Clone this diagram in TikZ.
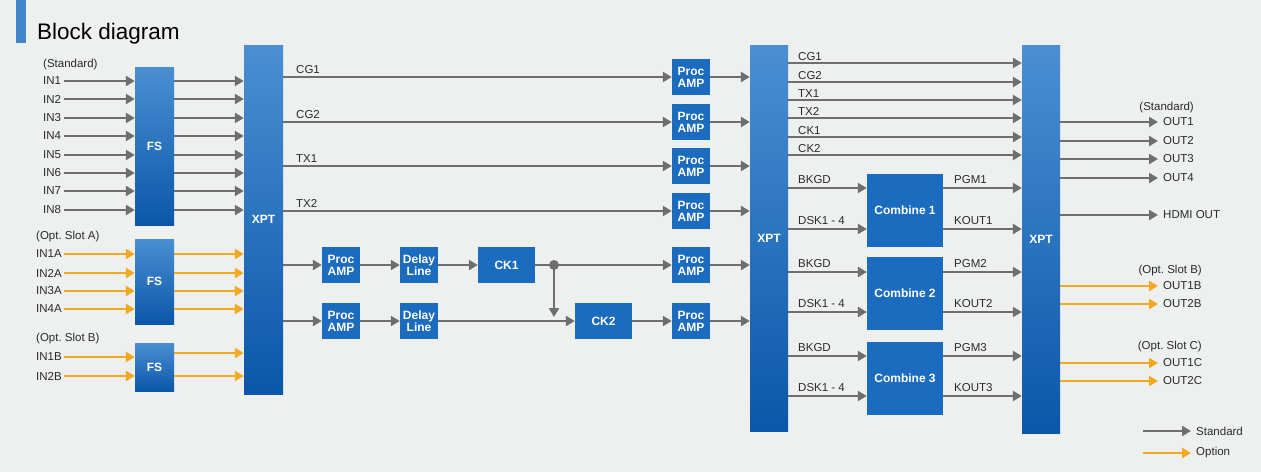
\documentclass[tikz,border=0pt]{standalone}
\usepackage{fontspec}
\setmainfont{Liberation Sans}
\usetikzlibrary{arrows.meta}
\definecolor{bg}{HTML}{EEF0F0}
\definecolor{boxblue}{HTML}{1B6BBE}
\definecolor{gtop}{HTML}{4A8FD2}
\definecolor{gbot}{HTML}{0A57A9}
\definecolor{barblue}{HTML}{3F86CC}
\definecolor{arrgray}{HTML}{6E6E6E}
\definecolor{optorange}{HTML}{F4A81D}
\definecolor{txt}{HTML}{2A2A2A}
\frenchspacing
\begin{document}
\begin{tikzpicture}[x=1pt,y=-1pt,
 std/.style={draw=arrgray, line width=2.5pt, -{Triangle[length=9pt,width=10pt]}},
 opt/.style={draw=optorange, line width=2.5pt, -{Triangle[length=9pt,width=10pt]}},
 lbl/.style={text=txt, font=\fontsize{11.5}{13}\selectfont, inner sep=0pt},
 gbox/.style={top color=gtop, bottom color=gbot, text=white, font=\fontsize{12}{14}\selectfont\bfseries, inner sep=0pt, minimum width=39pt},
 sbox/.style={fill=boxblue, text=white, font=\fontsize{12}{12}\selectfont\bfseries, inner sep=0pt, align=center, minimum width=38pt, minimum height=36pt},
 cbox/.style={fill=boxblue, text=white, font=\fontsize{12}{14}\selectfont\bfseries, inner sep=0pt, minimum width=76pt, minimum height=73pt},
]
\useasboundingbox (0,0) rectangle (1261,472);
\fill[bg] (0,0) rectangle (1261,472);
% title
\fill[barblue] (16,0) rectangle (26,43);
\node[anchor=base west, inner sep=0pt, font=\fontsize{22.5}{26}\selectfont, text=black] (title) at (37,39) {Block diagram};

% big boxes
\node[gbox, minimum height=158pt] (fs1) at (154.5,146) {FS};
\node[gbox, minimum height=85pt] (fs2) at (154.5,281.5) {FS};
\node[gbox, minimum height=48pt] (fs3) at (154.5,367) {FS};
\node[gbox, minimum height=349pt] (xpt1) at (263.5,219.5) {XPT};
\node[gbox, minimum height=386pt, minimum width=38pt] (xpt2) at (769,238) {XPT};
\node[gbox, minimum height=388pt, minimum width=38pt] (xpt3) at (1041,239) {XPT};

% standard inputs
\node[lbl, anchor=west] (hstd) at (43,65) {(Standard)};
\foreach \n/\y in {1/81,2/99,3/118,4/136,5/155,6/173,7/191,8/210} {
  \node[lbl, anchor=west] (in\n) at (43,\y) {IN\n};
  \draw[std] ([xshift=2.5pt]in\n.east) -- (fs1.west|-in\n);
  \draw[std] (fs1.east|-in\n) -- (xpt1.west|-in\n);
}
% slot A
\node[lbl, anchor=west] (hslA) at (36,237) {(Opt. Slot A)};
\foreach \n/\y in {1/254,2/273,3/291,4/309} {
  \node[lbl, anchor=west] (ina\n) at (36,\y) {IN\n A};
  \draw[opt] ([xshift=2.5pt]ina\n.east) -- (fs2.west|-ina\n);
  \draw[opt] (fs2.east|-ina\n) -- (xpt1.west|-ina\n);
}
% slot B
\node[lbl, anchor=west] (hslB) at (36,339) {(Opt. Slot B)};
\foreach \n/\y/\o in {1/357/353,2/376/376} {
  \node[lbl, anchor=west] (inb\n) at (36,\y) {IN\n B};
  \coordinate (fo\n) at (0,\o);
  \draw[opt] ([xshift=2.5pt]inb\n.east) -- (fs3.west|-inb\n);
  \draw[opt] (fs3.east|-fo\n) -- (xpt1.west|-fo\n);
}

% CG / TX paths
\foreach \n/\y/\t in {1/77/CG1,2/122/CG2,3/166/TX1,4/211/TX2} {
  \node[sbox] (pa\n) at (691,\y) {Proc\\AMP};
  \node[lbl, anchor=west] (lt\n) at (296,\y-7.5) {\t};
  \draw[std] (xpt1.east|-pa\n) -- (pa\n.west);
  \draw[std] (pa\n.east) -- (xpt2.west|-pa\n);
}

% CK paths
\node[sbox] (pl1) at (341,265) {Proc\\AMP};
\node[sbox] (pl2) at (341,321) {Proc\\AMP};
\node[sbox] (dl1) at (419,265) {Delay\\Line};
\node[sbox] (dl2) at (419,321) {Delay\\Line};
\node[sbox, minimum width=57pt] (ck1) at (506.5,265) {CK1};
\node[sbox, minimum width=57pt] (ck2) at (603.5,321) {CK2};
\node[sbox] (pa5) at (691,265) {Proc\\AMP};
\node[sbox] (pa6) at (691,321) {Proc\\AMP};
\coordinate (split) at (554,265);
\draw[std] (xpt1.east|-pl1) -- (pl1.west);
\draw[std] (xpt1.east|-pl2) -- (pl2.west);
\draw[std] (pl1) -- (dl1);
\draw[std] (pl2) -- (dl2);
\draw[std] (dl1) -- (ck1);
\draw[std] (dl2) -- (ck2);
\draw[std] (ck1) -- (pa5);
\draw[std] (ck2) -- (pa6);
\draw[std] (split) -- ([yshift=4pt]split|-ck2.west);
\fill[arrgray] (split) circle (5pt);
\draw[std] (pa5.east) -- (xpt2.west|-pa5);
\draw[std] (pa6.east) -- (xpt2.west|-pa6);

% XPT2 -> XPT3 direct
\foreach \n/\y/\t in {1/63/CG1,2/82/CG2,3/100/TX1,4/118/TX2,5/137/CK1,6/155/CK2} {
  \coordinate (r\n) at (0,\y);
  \node[lbl, anchor=west] (rl\n) at (798,\y-6.5) {\t};
  \draw[std] (xpt2.east|-r\n) -- (xpt3.west|-r\n);
}
% combiners
\foreach \k/\cy/\b/\d in {1/210.5/188/229, 2/293.5/272/312, 3/378/356/396} {
  \node[cbox] (cb\k) at (905,\cy) {Combine \k};
  \coordinate (b\k) at (0,\b);
  \coordinate (d\k) at (0,\d);
  \node[lbl, anchor=west] (bl\k) at (798,\b-8) {BKGD};
  \node[lbl, anchor=west] (dk\k) at (798,\d-8) {DSK1 - 4};
  \node[lbl, anchor=west] (pg\k) at (954,\b-8) {PGM\k};
  \node[lbl, anchor=west] (ko\k) at (954,\d-8) {KOUT\k};
  \draw[std] (xpt2.east|-b\k) -- (cb\k.west|-b\k);
  \draw[std] (xpt2.east|-d\k) -- (cb\k.west|-d\k);
  \draw[std] (cb\k.east|-b\k) -- (xpt3.west|-b\k);
  \draw[std] (cb\k.east|-d\k) -- (xpt3.west|-d\k);
}

% outputs
\node[lbl, anchor=east] (ostd) at (1194,108) {(Standard)};
\foreach \n/\y in {1/122,2/141,3/159,4/178} {
  \node[lbl, anchor=west] (out\n) at (1163,\y) {OUT\n};
  \draw[std] (xpt3.east|-out\n) -- ([xshift=-5pt]out\n.west);
}
\node[lbl, anchor=west] (hdmi) at (1163,215) {HDMI OUT};
\draw[std] (xpt3.east|-hdmi) -- ([xshift=-5pt]hdmi.west);
\node[lbl, anchor=east] (oslB) at (1202,271) {(Opt. Slot B)};
\foreach \n/\y in {1/286,2/304} {
  \node[lbl, anchor=west] (ob\n) at (1163,\y) {OUT\n B};
  \draw[opt] (xpt3.east|-ob\n) -- ([xshift=-5pt]ob\n.west);
}
\node[lbl, anchor=east] (oslC) at (1202,347) {(Opt. Slot C)};
\foreach \n/\y in {1/363,2/381} {
  \node[lbl, anchor=west] (oc\n) at (1163,\y) {OUT\n C};
  \draw[opt] (xpt3.east|-oc\n) -- ([xshift=-5pt]oc\n.west);
}

% legend
\node[lbl, anchor=west] (lgs) at (1196,431) {Standard};
\node[lbl, anchor=west] (lgo) at (1196,453) {Option};
\coordinate (lgs0) at (1143,431);
\coordinate (lgo0) at (1143,453);
\draw[std] (lgs0) -- ([xshift=-5pt]lgs.west);
\draw[opt] (lgo0) -- ([xshift=-5pt]lgo.west);
\end{tikzpicture}
\end{document}
